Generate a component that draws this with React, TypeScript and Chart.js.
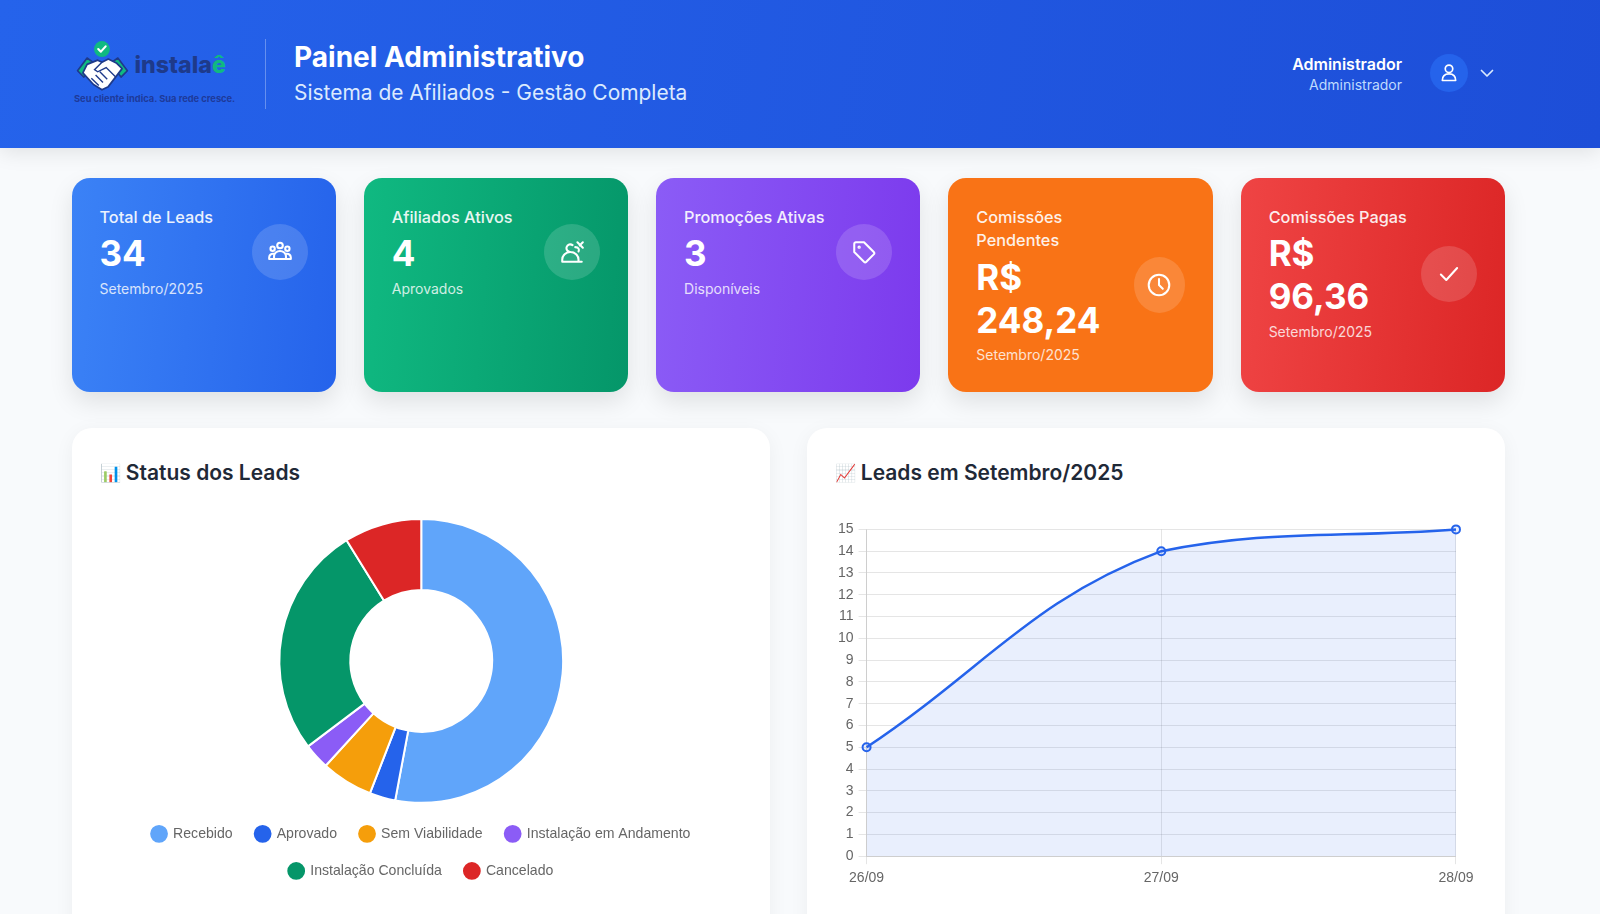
import React, { useEffect, useRef } from 'react';
import Chart from 'chart.js/auto';

const statusLabels = ['Recebido', 'Aprovado', 'Sem Viabilidade', 'Instalação em Andamento', 'Instalação Concluída', 'Cancelado'];
const statusValues = [18, 1, 2, 1, 9, 3];
const statusColors = ['#60a5fa', '#2563eb', '#f59e0b', '#8b5cf6', '#059669', '#dc2626'];

const leadDays = ['26/09', '27/09', '28/09'];
const leadCounts = [5, 14, 15];

const FONT = 'Inter, sans-serif';
const CHART_FONT = '"Liberation Sans", Arial, sans-serif';

const icons: Record<string, React.ReactNode> = {
  users: (
    <>
      <circle cx="12" cy="6" r="2.6" />
      <circle cx="5.2" cy="9" r="2" />
      <circle cx="18.8" cy="9" r="2" />
      <path d="M2 18.5v-1.5a3.5 3.5 0 0 1 4-3.4M22 18.5v-1.5a3.5 3.5 0 0 0-4-3.4M6.5 18.5V16a5.5 5 0 0 1 11 0v2.5zM2 18.5h20" />
    </>
  ),
  handshake: (
    <>
      <path d="M3 21v-2a7.5 7 0 0 1 15 0v2zM3 21h18M10.5 12a3.5 3.5 0 1 1 2-6.3" />
      <path d="M17 3l5 5M22 3l-3 3M15 7.5c3 0 4 2 3 4" />
    </>
  ),
  tag: (
    <>
      <path d="M3 4.5A1.5 1.5 0 0 1 4.5 3H12l9 9a1.6 1.6 0 0 1 0 2.2L14.2 21a1.6 1.6 0 0 1-2.2 0l-9-9z" />
      <circle cx="7.5" cy="7.5" r=".6" />
    </>
  ),
  clock: (
    <>
      <circle cx="12" cy="12" r="9.5" />
      <path d="M12 6.5V12l3.5 3.5" />
    </>
  ),
  check: <path d="M4.5 12.5l5 5L19.5 6.5" />,
};

const cards = [
  { label: ['Total de Leads'], value: ['34'], note: 'Setembro/2025', from: '#3b82f6', to: '#2563eb', icon: 'users', iconWidth: 56 },
  { label: ['Afiliados Ativos'], value: ['4'], note: 'Aprovados', from: '#10b981', to: '#059669', icon: 'handshake', iconWidth: 56 },
  { label: ['Promoções Ativas'], value: ['3'], note: 'Disponíveis', from: '#8b5cf6', to: '#7c3aed', icon: 'tag', iconWidth: 56 },
  { label: ['Comissões', 'Pendentes'], value: ['R$', '248,24'], note: 'Setembro/2025', from: '#f97316', to: '#f97316', icon: 'clock', iconWidth: 51 },
  { label: ['Comissões Pagas'], value: ['R$', '96,36'], note: 'Setembro/2025', from: '#ef4444', to: '#dc2626', icon: 'check', iconWidth: 56 },
];

function StatCard({ card }: { card: (typeof cards)[number] }) {
  return (
    <div
      style={{
        width: 264.4,
        height: 214,
        boxSizing: 'border-box',
        padding: '27.5px 28px',
        borderRadius: 18,
        background: `linear-gradient(95deg, ${card.from}, ${card.to})`,
        boxShadow: '0 10px 25px rgba(0,0,0,0.1)',
        color: '#fff',
      }}
    >
      <div style={{ display: 'flex', alignItems: 'center', justifyContent: 'space-between' }}>
        <div>
          <div style={{ fontSize: 16.3, fontWeight: 500, lineHeight: '23.6px', opacity: 0.9 }}>
            {card.label.map((l) => <div key={l}>{l}</div>)}
          </div>
          <div style={{ fontSize: 35, fontWeight: 700, lineHeight: '43px', marginTop: 3 }}>
            {card.value.map((v) => <div key={v}>{v}</div>)}
          </div>
          <div style={{ fontSize: 14, lineHeight: '20px', marginTop: 3.5, opacity: 0.8 }}>{card.note}</div>
        </div>
        <div
          style={{
            width: card.iconWidth,
            height: 56,
            borderRadius: '50%',
            background: 'rgba(255,255,255,0.15)',
            display: 'flex',
            alignItems: 'center',
            justifyContent: 'center',
            flexShrink: 0,
          }}
        >
          <svg width="26" height="26" viewBox="0 0 24 24" fill="none" stroke="#fff" strokeWidth="1.9" strokeLinecap="round" strokeLinejoin="round">
            {icons[card.icon]}
          </svg>
        </div>
      </div>
    </div>
  );
}

function Logo() {
  return (
    <div style={{ position: 'relative', width: 175, height: 80 }}>
      <svg width="62" height="53" viewBox="0 0 58 50" style={{ position: 'absolute', left: -2, top: 0 }}>
        <circle cx="28" cy="8.5" r="7.5" fill="#10b981" />
        <path d="M24.5 8.5l2.5 2.5 4.5-5" fill="none" stroke="#fff" strokeWidth="2" strokeLinecap="round" strokeLinejoin="round" />
        <path d="M5 29L14 17l7 5-10 13zM52 29L43 17l-7 5 10 13z" fill="#10b981" stroke="#1e3a8a" strokeWidth="1.6" strokeLinejoin="round" />
        <path d="M14 23l10-4 4 2 6-3 8 4 5 5-13 17-6 3-8-5-10-11z" fill="#fff" stroke="#1e3a8a" strokeWidth="1.6" strokeLinejoin="round" />
        <path d="M28 21l-7 7 3 2 8-4 9 9M18 36l7 7M22 33l7 7M26 30l7 7" fill="none" stroke="#1e3a8a" strokeWidth="1.3" />
      </svg>
      <div style={{ position: 'absolute', left: 60.5, top: 10, fontSize: 23.2, fontWeight: 800, color: '#1e3a8a', lineHeight: '30px' }}>
        instala<span style={{ color: '#10b981' }}>ê</span>
      </div>
      <div style={{ position: 'absolute', left: 0, top: 53, fontSize: 9.3, fontWeight: 700, color: '#1e3a9a', whiteSpace: 'nowrap', lineHeight: '12px' }}>
        Seu cliente indica. Sua rede cresce.
      </div>
    </div>
  );
}

function StatusChart() {
  const canvasRef = useRef<HTMLCanvasElement>(null);

  useEffect(() => {
    if (!canvasRef.current) return;
    const chart = new Chart(canvasRef.current, {
      type: 'doughnut',
      data: {
        labels: statusLabels,
        datasets: [{ data: statusValues, backgroundColor: statusColors, borderColor: '#fff', borderWidth: 2 }],
      },
      options: {
        animation: false,
        responsive: true,
        maintainAspectRatio: false,
        cutout: '50%',
        plugins: {
          legend: {
            position: 'bottom',
            labels: {
              usePointStyle: true,
              boxWidth: 14,
              boxHeight: 14,
              padding: 23,
              color: '#666',
              font: { family: CHART_FONT, size: 14.1 },
            },
          },
        },
      },
    });
    return () => chart.destroy();
  }, []);

  return <canvas ref={canvasRef} />;
}

function LeadsChart() {
  const canvasRef = useRef<HTMLCanvasElement>(null);

  useEffect(() => {
    if (!canvasRef.current) return;
    const chart = new Chart(canvasRef.current, {
      type: 'line',
      data: {
        labels: leadDays,
        datasets: [
          {
            data: leadCounts,
            borderColor: '#2563eb',
            backgroundColor: 'rgba(37,99,235,0.1)',
            borderWidth: 2.5,
            fill: true,
            tension: 0.4,
            clip: false,
            pointRadius: 4,
            pointBorderWidth: 2,
            pointBackgroundColor: 'rgba(37,99,235,0.1)',
            pointBorderColor: '#2563eb',
          },
        ],
      },
      options: {
        animation: false,
        responsive: true,
        maintainAspectRatio: false,
        layout: { padding: { top: 0, left: 0, right: 3, bottom: 0 } },
        plugins: { legend: { display: false } },
        scales: {
          x: { ticks: { padding: 6, color: '#666', font: { family: CHART_FONT, size: 14 } } },
          y: {
            beginAtZero: true,
            max: 15,
            ticks: { stepSize: 1, padding: 5, color: '#666', font: { family: CHART_FONT, size: 14 } },
          },
        },
      },
    });
    return () => chart.destroy();
  }, []);

  return <canvas ref={canvasRef} />;
}

function Panel({ icon, title, chartTop, chartHeight, chartShift, children }: { icon: string; title: string; chartTop: number; chartHeight: number; chartShift: number; children: React.ReactNode }) {
  return (
    <div
      style={{
        width: 698.5,
        height: 510,
        boxSizing: 'border-box',
        padding: '28px 28px 0',
        borderRadius: 20,
        background: '#fff',
        boxShadow: '0 4px 20px rgba(0,0,0,0.05)',
      }}
    >
      <div style={{ fontSize: 21, fontWeight: 600, color: '#1f2937', lineHeight: '34px' }}>
        <span style={{ fontSize: 17.2, position: 'relative', top: -1.5 }}>{icon}</span> {title}
      </div>
      <div style={{ position: 'relative', height: chartHeight, marginTop: chartTop, marginLeft: -chartShift, marginRight: -chartShift }}>{children}</div>
    </div>
  );
}

export default function App() {
  return (
    <div style={{ position: 'relative', width: 1600, height: 914, overflow: 'hidden', background: '#f8fafc', fontFamily: FONT }}>
      <style>{'html,body{margin:0;overflow:hidden}'}</style>
      <div
        style={{
          height: 148,
          background: 'linear-gradient(100deg, #2563eb, #1d4ed8)',
          boxShadow: '0 4px 20px rgba(0,0,0,0.1)',
          position: 'relative',
          color: '#fff',
        }}
      >
        <div style={{ position: 'absolute', left: 74, top: 40 }}><Logo /></div>
        <div style={{ position: 'absolute', left: 265, top: 39, width: 1, height: 70, background: 'rgba(255,255,255,0.3)' }} />
        <div style={{ position: 'absolute', left: 294, top: 38, fontSize: 28, fontWeight: 700, lineHeight: '38px' }}>Painel Administrativo</div>
        <div style={{ position: 'absolute', left: 294, top: 77.5, fontSize: 20.95, lineHeight: '30px', color: '#dbeafe' }}>Sistema de Afiliados - Gestão Completa</div>
        <div style={{ position: 'absolute', right: 198, top: 52, fontSize: 16, fontWeight: 600, lineHeight: '24px' }}>Administrador</div>
        <div style={{ position: 'absolute', right: 198, top: 75, fontSize: 14, lineHeight: '20px', color: '#bfdbfe' }}>Administrador</div>
        <div style={{ position: 'absolute', left: 1430, top: 54, width: 38, height: 38, borderRadius: '50%', background: '#2563eb', display: 'flex', alignItems: 'center', justifyContent: 'center' }}>
          <svg width="20" height="20" viewBox="0 0 24 24" fill="none" stroke="#fff" strokeWidth="2" strokeLinejoin="round">
            <circle cx="12" cy="7" r="4.5" />
            <path d="M4 21c0-5 3-8 8-8s8 3 8 8z" />
          </svg>
        </div>
        <svg style={{ position: 'absolute', left: 1479, top: 65 }} width="16" height="16" viewBox="0 0 16 16" fill="none" stroke="#dbeafe" strokeWidth="1.7" strokeLinecap="round" strokeLinejoin="round">
          <path d="M2.5 5.5L8 11l5.5-5.5" />
        </svg>
      </div>

      <div style={{ position: 'absolute', left: 71.5, top: 178, display: 'flex', gap: 27.9 }}>
        {cards.map((c) => <StatCard key={c.label.join(' ')} card={c} />)}
      </div>

      <div style={{ position: 'absolute', left: 71.5, top: 428, display: 'flex', gap: 36.5 }}>
        <Panel icon="📊" title="Status dos Leads" chartTop={27} chartHeight={370} chartShift={0}><StatusChart /></Panel>
        <Panel icon="📈" title="Leads em Setembro/2025" chartTop={25} chartHeight={377} chartShift={2}><LeadsChart /></Panel>
      </div>
    </div>
  );
}
